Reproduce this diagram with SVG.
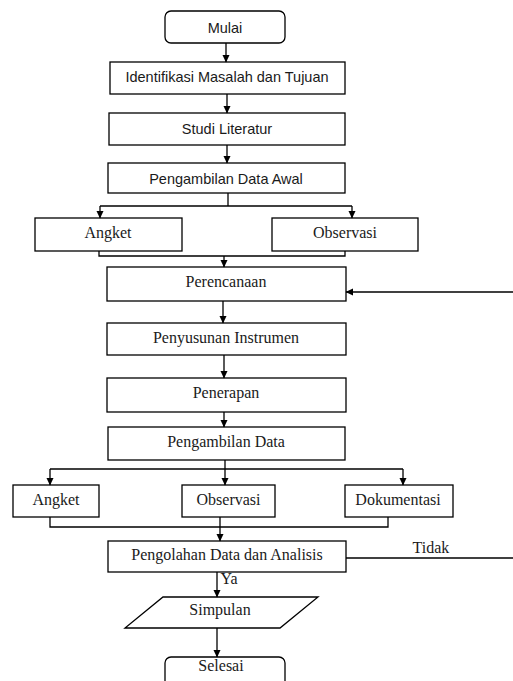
<svg xmlns="http://www.w3.org/2000/svg" width="513" height="681" viewBox="0 0 513 681">
<style>
.box{fill:#fff;stroke:#000;stroke-width:1.3}
.ln{fill:none;stroke:#000;stroke-width:1.3}
.arr{fill:none;stroke:#000;stroke-width:1.3;marker-end:url(#ah)}
.sans{font-family:"Liberation Sans",Arial,sans-serif;font-size:14.5px;fill:#1a1a1a;text-anchor:middle}
.serif{font-family:"Liberation Serif","Times New Roman",serif;font-size:16px;fill:#1a1a1a;text-anchor:middle}
</style>
<defs>
<marker id="ah" markerWidth="8" markerHeight="8" refX="7" refY="4" orient="auto" markerUnits="userSpaceOnUse">
<path d="M0,0.5 L7.5,4 L0,7.5 Z" fill="#000"/>
</marker>
</defs>
<rect width="513" height="681" fill="#fff"/>
<g id="mulai"><rect class="box" x="165" y="11" width="120" height="32" rx="6"/><text class="sans" x="225" y="33">Mulai</text></g>
<g id="identifikasi"><rect class="box" x="110" y="62" width="235" height="32"/><text class="sans" x="227" y="82">Identifikasi Masalah dan Tujuan</text></g>
<g id="studi"><rect class="box" x="109" y="113" width="236" height="32"/><text class="sans" x="227" y="134">Studi Literatur</text></g>
<g id="awal"><rect class="box" x="108" y="163" width="237" height="30"/><text class="sans" x="226" y="184">Pengambilan Data Awal</text></g>
<g id="angket1"><rect class="box" x="35" y="218" width="147" height="33"/><text class="serif" x="108" y="238">Angket</text></g>
<g id="observasi1"><rect class="box" x="272" y="218" width="146" height="33"/><text class="serif" x="345" y="238">Observasi</text></g>
<g id="perencanaan"><rect class="box" x="107" y="267" width="239" height="34"/><text class="serif" x="226" y="287">Perencanaan</text></g>
<g id="penyusunan"><rect class="box" x="107" y="323" width="239" height="32"/><text class="serif" x="226" y="343">Penyusunan Instrumen</text></g>
<g id="penerapan"><rect class="box" x="107" y="378" width="239" height="34"/><text class="serif" x="226" y="398">Penerapan</text></g>
<g id="pengambilan"><rect class="box" x="108" y="427" width="237" height="33"/><text class="serif" x="226" y="447">Pengambilan Data</text></g>
<g id="angket2"><rect class="box" x="13" y="485" width="86" height="32"/><text class="serif" x="56" y="505">Angket</text></g>
<g id="observasi2"><rect class="box" x="182" y="485" width="93" height="32"/><text class="serif" x="228.5" y="505">Observasi</text></g>
<g id="dokumentasi"><rect class="box" x="345" y="485" width="108" height="32"/><text class="serif" x="398" y="505">Dokumentasi</text></g>
<g id="pengolahan"><rect class="box" x="108" y="541" width="238" height="31"/><text class="serif" x="227" y="560">Pengolahan Data dan Analisis</text></g>
<g id="simpulan"><polygon class="box" points="163,597 318,597 280,628 125,628"/><text class="serif" x="220" y="615">Simpulan</text></g>
<g id="selesai"><rect class="box" x="165" y="657" width="120" height="30" rx="6"/><text class="serif" x="221" y="671">Selesai</text></g>
<g id="connectors">
<line class="arr" x1="226" y1="43" x2="226" y2="62"/>
<line class="arr" x1="227" y1="94" x2="227" y2="113"/>
<line class="arr" x1="227" y1="145" x2="227" y2="163"/>
<polyline class="ln" points="228,193 228,206"/>
<line class="ln" x1="100" y1="206" x2="352" y2="206"/>
<line class="arr" x1="100" y1="206" x2="100" y2="218"/>
<line class="arr" x1="352" y1="206" x2="352" y2="218"/>
<polyline class="ln" points="99,251 99,256 345,256 345,251"/>
<line class="arr" x1="224" y1="256" x2="224" y2="267"/>
<line class="arr" x1="223" y1="301" x2="223" y2="323"/>
<line class="arr" x1="224" y1="355" x2="224" y2="378"/>
<line class="arr" x1="224" y1="412" x2="224" y2="427"/>
<polyline class="ln" points="225,460 225,469"/>
<line class="ln" x1="50" y1="469" x2="403" y2="469"/>
<line class="arr" x1="50" y1="469" x2="50" y2="485"/>
<line class="arr" x1="225" y1="469" x2="225" y2="485"/>
<line class="arr" x1="403" y1="469" x2="403" y2="485"/>
<polyline class="ln" points="50,517 50,527 388,527 388,517"/>
<line class="arr" x1="220" y1="517" x2="220" y2="541"/>
<line class="ln" x1="346" y1="558" x2="513" y2="558"/>
<line class="arr" x1="513" y1="292" x2="346" y2="292"/>
<line class="arr" x1="217" y1="572" x2="217" y2="597"/>
<line class="arr" x1="217" y1="628" x2="217" y2="657"/>
<text class="serif" x="431" y="553">Tidak</text>
<text class="serif" x="229" y="584">Ya</text>
</g>
</svg>
